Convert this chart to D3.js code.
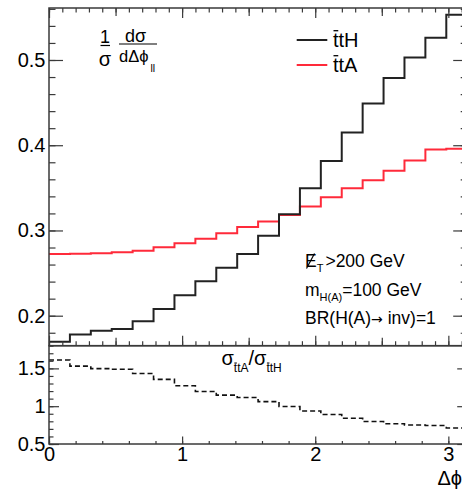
<!DOCTYPE html>
<html>
<head>
<meta charset="utf-8">
<script src="https://cdn.jsdelivr.net/npm/d3@7"></script>
<style>
  body { margin: 0; background: #fff; }
  svg text { font-family: "Liberation Sans", Arial, Helvetica, sans-serif; fill: #000; }
</style>
</head>
<body>
<svg id="chart" width="462" height="495"></svg>
<script>
// Normalised Δφ distributions, 20 equal bins over [0, π]
const binCount = 20;
const ttH = [0.1695, 0.178, 0.1824, 0.1844, 0.1934, 0.208, 0.224, 0.2405, 0.2563, 0.2724,
             0.2937, 0.319, 0.3495, 0.3816, 0.415, 0.449, 0.479, 0.503, 0.526, 0.553];
const ttA = [0.2724, 0.2726, 0.2732, 0.2744, 0.2763, 0.2803, 0.285, 0.2904, 0.2967, 0.304,
             0.3104, 0.3182, 0.328, 0.339, 0.3495, 0.359, 0.370, 0.382, 0.395, 0.396];
// ratio σ(ttA)/σ(ttH) per bin
const ratio = [1.61, 1.53, 1.497, 1.488, 1.432, 1.355, 1.27, 1.195, 1.147, 1.115,
               1.06, 0.996, 0.937, 0.89, 0.841, 0.797, 0.768, 0.752, 0.744, 0.712];

const xTickValues = [0, 1, 2, 3];
const xTickLabels = ["0", "1", "2", "3"];
const yTopTickValues = [0.2, 0.3, 0.4, 0.5];
const yTopTickLabels = ["0.2", "0.3", "0.4", "0.5"];
const yBotTickValues = [0.5, 1, 1.5];
const yBotTickLabels = ["0.5", "1", "1.5"];

const svg = d3.select("#chart");

const left = 49, right = 467.2;
const topY0 = 8, topY1 = 345.7;   // upper pad frame
const botY0 = 345.7, botY1 = 444; // lower pad frame

const x = d3.scaleLinear().domain([0, Math.PI]).range([left, right]);
const yTop = d3.scaleLinear().domain([0.1648, 0.561]).range([topY1, topY0]);
const yBot = d3.scaleLinear().domain([0.5, 1.8]).range([botY1, botY0]);

const edges = d3.range(binCount + 1).map(i => i * Math.PI / binCount);

const axisColor = "#3a3a3a";
const tickFont = 20;

// clip regions for the two pads
const defs = svg.append("defs");
defs.append("clipPath").attr("id", "clipTop").append("rect")
  .attr("x", left).attr("y", topY0).attr("width", right - left).attr("height", topY1 - topY0);
defs.append("clipPath").attr("id", "clipBot").append("rect")
  .attr("x", left).attr("y", botY0).attr("width", right - left).attr("height", botY1 - botY0);

// step histogram path
function stepPath(values, yScale) {
  const pts = values.map((v, i) => [edges[i], v]);
  pts.push([edges[binCount], values[binCount - 1]]);
  return d3.line().x(d => x(d[0])).y(d => yScale(d[1])).curve(d3.curveStepAfter)(pts);
}

const upper = svg.append("g").attr("clip-path", "url(#clipTop)");
upper.append("path").attr("d", stepPath(ttA, yTop))
  .attr("fill", "none").attr("stroke", "#ff2a3a").attr("stroke-width", 2);
upper.append("path").attr("d", stepPath(ttH, yTop))
  .attr("fill", "none").attr("stroke", "#222").attr("stroke-width", 2);

const lower = svg.append("g").attr("clip-path", "url(#clipBot)");
lower.append("path").attr("d", stepPath(ratio, yBot))
  .attr("fill", "none").attr("stroke", "#111").attr("stroke-width", 1.6)
  .attr("stroke-dasharray", "5,3");

// tick helper: draws ticks (and optional labels) using a d3 axis generator
function ticks(axisGen, scale, transform, values, size, labels, padding) {
  const gen = axisGen(scale).tickValues(values).tickSize(size).tickSizeOuter(0);
  if (labels) gen.tickFormat((d, i) => labels[i]).tickPadding(padding);
  else gen.tickFormat("");
  const g = svg.append("g").attr("transform", transform).call(gen);
  g.select(".domain").remove();
  g.selectAll("line").attr("stroke", axisColor).attr("stroke-width", 1.2);
  g.selectAll("text").style("font-size", tickFont + "px").attr("fill", "#000");
  g.attr("font-family", null).attr("font-size", null);
  return g;
}

const tenths = d3.range(0, 32).map(i => i / 10).filter(v => v <= Math.PI);
const halves = [0.5, 1.5, 2.5];
const fifths = d3.range(0, 16).map(i => i / 5).filter(v => v <= Math.PI);

// ---- upper pad ticks ----
// top edge (pointing down)
ticks(d3.axisTop, x, `translate(0,${topY0})`, tenths, -4.5);
ticks(d3.axisTop, x, `translate(0,${topY0})`, halves, -8);
ticks(d3.axisTop, x, `translate(0,${topY0})`, xTickValues, -10);
// bottom edge (pointing up)
ticks(d3.axisBottom, x, `translate(0,${topY1})`, tenths, -4.5);
ticks(d3.axisBottom, x, `translate(0,${topY1})`, halves, -8);
ticks(d3.axisBottom, x, `translate(0,${topY1})`, xTickValues, -10);
// left / right
const yTopMinor = d3.range(9, 29).map(i => i * 0.02).filter(v => v > 0.1648 && v < 0.561);
ticks(d3.axisLeft, yTop, `translate(${left},0)`, yTopMinor, -6.5);
ticks(d3.axisLeft, yTop, `translate(${left},0)`, yTopTickValues, -14, yTopTickLabels, 3.5);
ticks(d3.axisRight, yTop, `translate(${right},0)`, yTopMinor, -6.5);
ticks(d3.axisRight, yTop, `translate(${right},0)`, yTopTickValues, -14);

// ---- lower pad ticks ----
ticks(d3.axisBottom, x, `translate(0,${botY1})`, fifths, -3);
ticks(d3.axisBottom, x, `translate(0,${botY1})`, xTickValues, -7.5, xTickLabels, 2.5);
const yBotMinor = d3.range(5, 19).map(i => i / 10);
ticks(d3.axisLeft, yBot, `translate(${left},0)`, yBotMinor, -4.5);
ticks(d3.axisLeft, yBot, `translate(${left},0)`, yBotTickValues, -10, yBotTickLabels, 3.5);
ticks(d3.axisRight, yBot, `translate(${right},0)`, yBotMinor, -4.5);
ticks(d3.axisRight, yBot, `translate(${right},0)`, yBotTickValues, -10);

// frames
svg.append("rect").attr("x", left).attr("y", topY0).attr("width", right - left).attr("height", topY1 - topY0)
  .attr("fill", "none").attr("stroke", axisColor).attr("stroke-width", 1.5);
svg.append("rect").attr("x", left).attr("y", botY0).attr("width", right - left).attr("height", botY1 - botY0)
  .attr("fill", "none").attr("stroke", axisColor).attr("stroke-width", 1.5);

// x-axis title
svg.append("text").attr("x", 462).attr("y", 485).attr("text-anchor", "end")
  .style("font-size", "20px").text("Δϕ");

// overline over a single character of a text element
function overline(textSel, charIndex, rise, width) {
  const node = textSel.node();
  const p0 = node.getStartPositionOfChar(charIndex);
  const p1 = node.getEndPositionOfChar(charIndex);
  svg.append("line").attr("x1", p0.x + 0.5).attr("x2", p1.x - 0.3)
    .attr("y1", p0.y - rise).attr("y2", p0.y - rise)
    .attr("stroke", "#000").attr("stroke-width", width);
}

// ---- y-axis title: (1/σ) dσ/dΔφ_ll ----
const ttl = svg.append("g");
ttl.append("text").attr("x", 105).attr("y", 42.7).attr("text-anchor", "middle")
  .style("font-size", "18px").text("1");
ttl.append("line").attr("x1", 100.5).attr("x2", 110).attr("y1", 45.5).attr("y2", 45.5)
  .attr("stroke", "#000").attr("stroke-width", 1.2);
ttl.append("text").attr("x", 105).attr("y", 65.5).attr("text-anchor", "middle")
  .style("font-size", "20px").text("σ");
ttl.append("text").attr("x", 135.5).attr("y", 42).attr("text-anchor", "middle")
  .style("font-size", "18px").text("dσ");
ttl.append("line").attr("x1", 119).attr("x2", 157).attr("y1", 44).attr("y2", 44)
  .attr("stroke", "#000").attr("stroke-width", 1.2);
ttl.append("text").attr("x", 119).attr("y", 61.5)
  .style("font-size", "16.5px").text("dΔϕ");
ttl.append("text").attr("x", 150.5).attr("y", 72)
  .style("font-size", "10.5px").text("ll");

// ---- legend ----
const legendItems = [
  { label: "ttH", color: "#222", y: 40 },
  { label: "ttA", color: "#ff2a3a", y: 65 }
];
legendItems.forEach(d => {
  svg.append("line").attr("x1", 296.7).attr("x2", 327.3).attr("y1", d.y).attr("y2", d.y)
    .attr("stroke", d.color).attr("stroke-width", 2);
  const t = svg.append("text").attr("x", 333).attr("y", d.y + 6.7)
    .style("font-size", "20px").text(d.label);
  overline(t, 0, 16, 1.3);
});

// ---- selection annotations ----
const ann1 = svg.append("text").attr("x", 305).attr("y", 267).style("font-size", "17.5px");
ann1.append("tspan").text("E");
ann1.append("tspan").attr("dy", 4.5).style("font-size", "11px").text("T");
ann1.append("tspan").attr("dy", -4.5).attr("dx", 2).text(">200 GeV");
svg.append("line").attr("x1", 314.5).attr("y1", 253.5).attr("x2", 306.5).attr("y2", 268.5)
  .attr("stroke", "#000").attr("stroke-width", 1.2);

const ann2 = svg.append("text").attr("x", 305).attr("y", 296).style("font-size", "17.5px");
ann2.append("tspan").text("m");
ann2.append("tspan").attr("dy", 4.5).style("font-size", "11px").text("H(A)");
ann2.append("tspan").attr("dy", -4.5).text("=100 GeV");

const ann3 = svg.append("text").attr("x", 305).attr("y", 323.5).style("font-size", "17.5px");
ann3.append("tspan").text("BR(H(A)");
ann3.append("tspan").style("font-family", "'DejaVu Sans', sans-serif").style("font-size", "14px").text("→");
ann3.append("tspan").text(" inv)=1");

// ---- ratio pad label: σ_ttA / σ_ttH ----
const rl = svg.append("text").attr("x", 221.5).attr("y", 365).style("font-size", "20px");
rl.append("tspan").text("σ");
rl.append("tspan").attr("dy", 6.5).style("font-size", "12px").text("ttA");
rl.append("tspan").attr("dy", -6.5).text("/σ");
rl.append("tspan").attr("dy", 6.5).style("font-size", "12px").text("ttH");
overline(rl, 1, 8.5, 1);
overline(rl, 6, 8.5, 1);
</script>
</body>
</html>
